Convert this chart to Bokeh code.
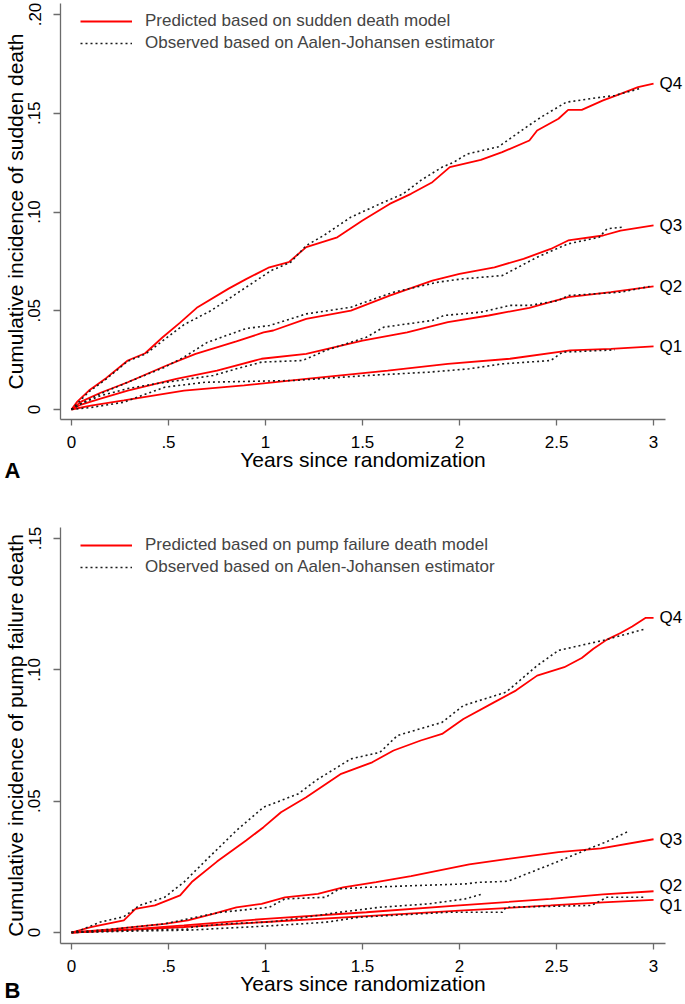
from bokeh.plotting import figure
from bokeh.models import Legend, LegendItem, FixedTicker, Range1d, LinearAxis, Title
from bokeh.layouts import column
from bokeh.embed import file_html
from bokeh.resources import INLINE

# ---------------- data ----------------
x_ticks = [0, 0.5, 1, 1.5, 2, 2.5, 3]
x_tick_labels = ["0", ".5", "1", "1.5", "2", "2.5", "3"]
x_title = "Years since randomization"
obs_label = "Observed based on Aalen-Johansen estimator"
quartiles = ["Q4", "Q3", "Q2", "Q1"]

# Panel A: sudden death
a_y_ticks = [0, 0.05, 0.1, 0.15, 0.2]
a_y_tick_labels = ["0", ".05", ".10", ".15", ".20"]
a_y_title = "Cumulative incidence of sudden death"
a_pred_label = "Predicted based on sudden death model"

a_q4_pred_x = [0, 0.03, 0.09, 0.18, 0.29, 0.38, 0.47, 0.56, 0.65, 0.81, 0.90, 1.02, 1.12, 1.21, 1.37, 1.50,
               1.64, 1.75, 1.86, 1.95, 2.11, 2.22, 2.36, 2.40, 2.51, 2.56, 2.63, 2.74, 2.83, 2.92, 3.00]
a_q4_pred_y = [0, 0.004, 0.0096, 0.016, 0.0248, 0.0285, 0.0366, 0.044, 0.0518, 0.0612, 0.066, 0.072, 0.0746,
               0.0822, 0.0872, 0.0957, 0.1041, 0.1092, 0.1151, 0.1227, 0.1264, 0.1303, 0.1362, 0.1413, 0.1472,
               0.1517, 0.1517, 0.1565, 0.1598, 0.1632, 0.165]
a_q4_obs_x = [0, 0.03, 0.09, 0.18, 0.29, 0.38, 0.48, 0.58, 0.72, 0.90, 1.03, 1.13, 1.21, 1.30, 1.44, 1.59,
              1.71, 1.80, 1.91, 1.97, 2.04, 2.20, 2.37, 2.42, 2.55, 2.72, 2.80, 2.93]
a_q4_obs_y = [0, 0.003, 0.009, 0.0155, 0.0245, 0.028, 0.0355, 0.043, 0.0501, 0.0619, 0.0704, 0.0746, 0.083,
              0.0881, 0.0974, 0.1041, 0.1092, 0.116, 0.1227, 0.1252, 0.1294, 0.133, 0.1447, 0.148, 0.1556,
              0.158, 0.159, 0.1625]
a_q3_pred_x = [0, 0.05, 0.15, 0.29, 0.49, 0.64, 0.85, 0.99, 1.04, 1.21, 1.44, 1.64, 1.86, 2.00, 2.18, 2.33,
               2.47, 2.56, 2.74, 2.83, 3.00]
a_q3_pred_y = [0, 0.004, 0.0085, 0.0138, 0.0223, 0.0282, 0.0345, 0.039, 0.040, 0.0459, 0.0501, 0.0577, 0.0653,
               0.0687, 0.072, 0.0763, 0.0813, 0.0856, 0.0881, 0.0906, 0.0932]
a_q3_obs_x = [0, 0.05, 0.15, 0.29, 0.48, 0.58, 0.70, 0.80, 0.90, 1.02, 1.21, 1.44, 1.66, 1.89, 2.02, 2.22,
              2.40, 2.56, 2.72, 2.76, 2.84]
a_q3_obs_y = [0, 0.003, 0.008, 0.0138, 0.0214, 0.0265, 0.034, 0.0375, 0.041, 0.0425, 0.0484, 0.0518, 0.0594,
              0.0645, 0.0662, 0.0678, 0.0771, 0.0839, 0.0872, 0.0915, 0.0923]
a_q2_pred_x = [0, 0.05, 0.15, 0.29, 0.54, 0.75, 0.98, 1.21, 1.50, 1.73, 1.94, 2.15, 2.36, 2.56, 2.78, 3.00]
a_q2_pred_y = [0, 0.0025, 0.0055, 0.0096, 0.0155, 0.0197, 0.0257, 0.0282, 0.0349, 0.0391, 0.0442, 0.0476,
               0.0515, 0.0569, 0.0594, 0.0623]
a_q2_obs_x = [0, 0.05, 0.15, 0.29, 0.43, 0.73, 0.85, 0.98, 1.19, 1.31, 1.52, 1.61, 1.86, 1.92, 2.11, 2.26,
              2.36, 2.51, 2.56, 2.83, 2.98]
a_q2_obs_y = [0, 0.003, 0.007, 0.0106, 0.013, 0.0172, 0.0206, 0.024, 0.0248, 0.0299, 0.0366, 0.0417, 0.0451,
              0.0476, 0.0493, 0.0527, 0.0527, 0.0552, 0.0577, 0.0594, 0.0623]
a_q1_pred_x = [0, 0.10, 0.27, 0.58, 0.89, 1.21, 1.63, 1.94, 2.26, 2.57, 2.78, 3.00]
a_q1_pred_y = [0, 0.002, 0.0046, 0.0096, 0.0122, 0.0155, 0.0197, 0.0231, 0.0257, 0.0299, 0.0307, 0.032]
a_q1_obs_x = [0, 0.10, 0.27, 0.48, 0.69, 1.15, 1.52, 1.84, 2.05, 2.22, 2.47, 2.53, 2.80]
a_q1_obs_y = [0, 0.001, 0.0037, 0.0113, 0.0138, 0.0147, 0.0172, 0.0189, 0.0206, 0.0231, 0.0248, 0.029, 0.0302]
a_q_label_y = [0.165, 0.0932, 0.0623, 0.032]

# Panel B: pump failure death
b_y_ticks = [0, 0.05, 0.1, 0.15]
b_y_tick_labels = ["0", ".05", ".10", ".15"]
b_y_title = "Cumulative incidence of pump failure death"
b_pred_label = "Predicted based on pump failure death model"

b_q4_pred_x = [0, 0.10, 0.27, 0.33, 0.43, 0.56, 0.62, 0.75, 0.90, 0.99, 1.08, 1.21, 1.39, 1.55, 1.66, 1.80,
               1.91, 2.02, 2.18, 2.29, 2.40, 2.54, 2.63, 2.69, 2.76, 2.83, 2.89, 2.96, 3.00]
b_q4_pred_y = [0, 0.002, 0.0046, 0.009, 0.0103, 0.0141, 0.0192, 0.027, 0.035, 0.0401, 0.0458, 0.0515, 0.0604,
               0.0648, 0.0693, 0.0731, 0.0756, 0.0813, 0.0877, 0.0921, 0.0978, 0.101, 0.1045, 0.108, 0.1115,
               0.114, 0.1165, 0.1198, 0.1198]
b_q4_obs_x = [0, 0.05, 0.15, 0.27, 0.35, 0.48, 0.58, 0.70, 0.85, 0.99, 1.17, 1.26, 1.44, 1.59, 1.68, 1.91,
              2.02, 2.24, 2.40, 2.51, 2.74, 2.96]
b_q4_obs_y = [0, 0.001, 0.004, 0.006, 0.0103, 0.0134, 0.0192, 0.028, 0.0388, 0.0477, 0.0528, 0.0579, 0.0661,
              0.0686, 0.075, 0.08, 0.0864, 0.0915, 0.1016, 0.1074, 0.1112, 0.1156]
b_q3_pred_x = [0, 0.20, 0.48, 0.60, 0.73, 0.85, 0.98, 1.10, 1.27, 1.40, 1.57, 1.75, 2.05, 2.25, 2.51, 2.73, 3.00]
b_q3_pred_y = [0, 0.0012, 0.0033, 0.0046, 0.0071, 0.0096, 0.0109, 0.0134, 0.0147, 0.0172, 0.0192, 0.0215,
               0.0259, 0.028, 0.0306, 0.032, 0.0355]
b_q3_obs_x = [0, 0.20, 0.48, 0.64, 0.77, 0.89, 1.02, 1.10, 1.31, 1.38, 1.52, 2.03, 2.10, 2.25, 2.49, 2.67,
              2.76, 2.87]
b_q3_obs_y = [0, 0.0012, 0.0033, 0.0058, 0.0077, 0.0086, 0.0096, 0.0128, 0.0134, 0.0166, 0.0172, 0.0185,
              0.0191, 0.0195, 0.0265, 0.032, 0.0346, 0.0385]
b_q2_pred_x = [0, 0.30, 0.58, 1.00, 1.52, 2.00, 2.47, 2.74, 3.00]
b_q2_pred_y = [0, 0.0012, 0.0027, 0.0052, 0.0077, 0.0103, 0.0128, 0.0145, 0.0157]
b_q2_obs_x = [0, 0.30, 0.60, 0.62, 0.79, 1.02, 1.15, 1.38, 1.59, 1.84, 2.03, 2.12]
b_q2_obs_y = [0, 0.0008, 0.0013, 0.002, 0.0033, 0.004, 0.0052, 0.0077, 0.0096, 0.0109, 0.0128, 0.0147]
b_q1_pred_x = [0, 0.30, 0.58, 1.00, 1.52, 2.00, 2.47, 2.74, 3.00]
b_q1_pred_y = [0, 0.001, 0.0021, 0.004, 0.0062, 0.0083, 0.0103, 0.0115, 0.0124]
b_q1_obs_x = [0, 0.30, 0.60, 0.89, 1.06, 1.31, 1.48, 1.94, 2.22, 2.24, 2.68, 2.76, 2.95]
b_q1_obs_y = [0, 0.0005, 0.0009, 0.002, 0.0027, 0.0039, 0.0058, 0.0077, 0.0077, 0.0096, 0.0103, 0.0134, 0.0134]
b_q_label_y = [0.1198, 0.0355, 0.0179, 0.0103]

# ---------------- style ----------------
FONT = "Liberation Sans"
RED = "#ff0000"
BLK = "#1a1a1a"
AXC = "#6b6b6b"
W = 685
B_LEFT, B_RIGHT = 59, 19


def make_panel(height, border_top, border_bottom, y_lo, y_hi, y_ticks, y_tick_labels, y_title,
               pred_label, pred, obs, q_label_y, letter, letter_standoff):
    p = figure(width=W, height=height, x_range=Range1d(-0.0565, 3.0616), y_range=Range1d(y_lo, y_hi),
               output_backend="svg", toolbar_location=None,
               min_border_left=B_LEFT, min_border_right=B_RIGHT, min_border_top=border_top,
               min_border_bottom=border_bottom)
    frame_h = height - border_top - border_bottom
    p.grid.visible = False
    p.outline_line_color = None
    p.background_fill_color = "white"
    p.border_fill_color = "white"

    for ax in (p.xaxis[0], p.yaxis[0]):
        ax.axis_line_color = AXC
        ax.axis_line_width = 1.3
        ax.major_tick_line_color = AXC
        ax.major_tick_line_width = 1.3
        ax.major_tick_in = 0
        ax.minor_tick_in = 0
        ax.minor_tick_out = 0
        ax.major_label_text_font = FONT
        ax.major_label_text_font_size = "17px"
        ax.major_label_text_color = "black"
        ax.axis_label_text_font = FONT
        ax.axis_label_text_font_size = "21px"
        ax.axis_label_text_font_style = "normal"
        ax.axis_label_text_color = "black"

    p.xaxis.ticker = FixedTicker(ticks=x_ticks)
    p.xaxis.major_label_overrides = dict(zip(x_ticks, x_tick_labels))
    p.xaxis.major_tick_out = 6
    p.xaxis.major_label_standoff = 10
    p.xaxis.axis_label = x_title
    p.xaxis.axis_label_standoff = -3

    p.yaxis.ticker = FixedTicker(ticks=y_ticks)
    p.yaxis.major_label_orientation = "vertical"
    p.yaxis.major_label_overrides = dict(zip(y_ticks, y_tick_labels))
    p.yaxis.major_tick_out = 7
    p.yaxis.major_label_standoff = 13
    p.yaxis.axis_label = y_title
    p.yaxis.axis_label_standoff = -1

    # quartile labels at the right end of the predicted curves
    q_axis = LinearAxis(ticker=FixedTicker(ticks=q_label_y),
                        major_label_overrides=dict(zip(q_label_y, quartiles)),
                        axis_line_color=None, major_tick_line_color=None, minor_tick_line_color=None,
                        major_tick_in=0, major_tick_out=0, minor_tick_in=0, minor_tick_out=0,
                        major_label_standoff=-6, major_label_text_font=FONT,
                        major_label_text_font_size="17px", major_label_text_color="black")
    p.add_layout(q_axis, "right")

    red_r = []
    blk_r = []
    for (px, py) in pred:
        red_r.append(p.line(px, py, line_color=RED, line_width=1.8))
    for (ox, oy) in obs:
        blk_r.append(p.line(ox, oy, line_color=BLK, line_width=1.6, line_dash="2 3"))

    legend = Legend(items=[LegendItem(label=pred_label, renderers=[red_r[0]]),
                           LegendItem(label=obs_label, renderers=[blk_r[0]])],
                    location=(20, frame_h - 50),
                    orientation="vertical", glyph_width=52, glyph_height=20, label_height=20,
                    label_standoff=13, spacing=2, padding=0, margin=0,
                    border_line_alpha=0, background_fill_alpha=0,
                    label_text_font=FONT, label_text_font_size="17px")
    p.add_layout(legend)

    # panel letter, below the x axis at the left
    p.add_layout(Title(text=letter, align="left", vertical_align="top", offset=-56,
                       standoff=letter_standoff,
                       text_font=FONT, text_font_size="22px", text_font_style="bold",
                       text_color="black"), "below")
    return p


pA = make_panel(524, 3, 105, -0.00506, 0.20557, a_y_ticks, a_y_tick_labels, a_y_title, a_pred_label,
                [(a_q4_pred_x, a_q4_pred_y), (a_q3_pred_x, a_q3_pred_y), (a_q2_pred_x, a_q2_pred_y),
                 (a_q1_pred_x, a_q1_pred_y)],
                [(a_q4_obs_x, a_q4_obs_y), (a_q3_obs_x, a_q3_obs_y), (a_q2_obs_x, a_q2_obs_y),
                 (a_q1_obs_x, a_q1_obs_y)],
                a_q_label_y, "A", -32)

pB = make_panel(480, 3, 61, -0.00419, 0.15419, b_y_ticks, b_y_tick_labels, b_y_title, b_pred_label,
                [(b_q4_pred_x, b_q4_pred_y), (b_q3_pred_x, b_q3_pred_y), (b_q2_pred_x, b_q2_pred_y),
                 (b_q1_pred_x, b_q1_pred_y)],
                [(b_q4_obs_x, b_q4_obs_y), (b_q3_obs_x, b_q3_obs_y), (b_q2_obs_x, b_q2_obs_y),
                 (b_q1_obs_x, b_q1_obs_y)],
                b_q_label_y, "B", -40)

layout = column(pA, pB, spacing=0)
open("out.html", "w").write(file_html(layout, INLINE))
